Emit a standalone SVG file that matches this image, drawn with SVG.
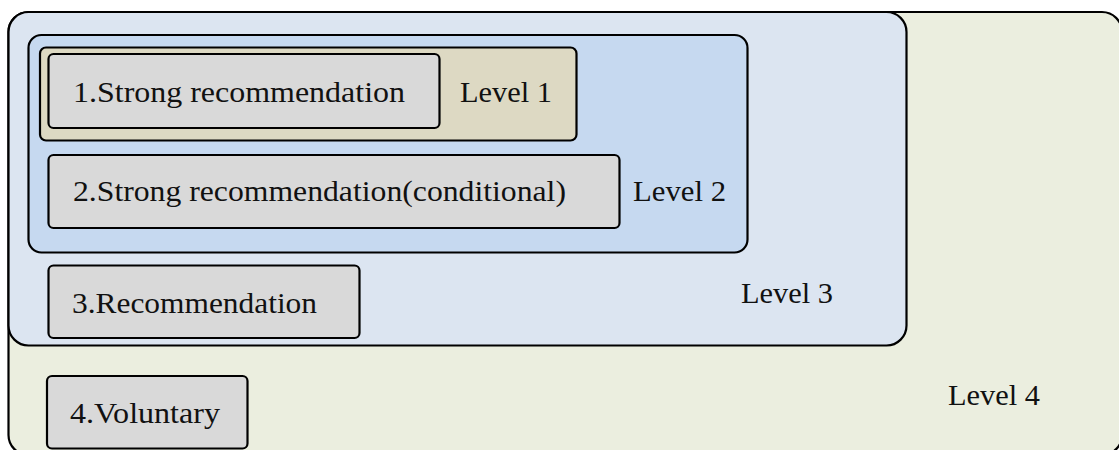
<svg xmlns="http://www.w3.org/2000/svg" width="1119" height="450" viewBox="0 0 1119 450">
<style>
.frame{stroke:#000;stroke-width:2.2}
.box{fill:#D9D9D9;stroke:#000;stroke-width:2.2}
text{font-family:"Liberation Serif","Times New Roman",serif;font-size:29px;fill:#111}
</style>
<rect width="1119" height="450" fill="#ffffff"/>
<g id="level4">
<rect class="frame" x="8.5" y="12" width="1113.5" height="443" rx="20" fill="#EBEEDF"/>
<text x="948" y="405" textLength="92" lengthAdjust="spacingAndGlyphs">Level 4</text>
</g>
<g id="level3">
<rect class="frame" x="8.5" y="12" width="898" height="333.5" rx="20" fill="#DCE5F1"/>
<text x="741" y="303" textLength="92" lengthAdjust="spacingAndGlyphs">Level 3</text>
</g>
<g id="level2">
<rect class="frame" x="28.5" y="35" width="719" height="217.5" rx="13" fill="#C6D9F0"/>
<text x="633" y="201" textLength="93" lengthAdjust="spacingAndGlyphs">Level 2</text>
</g>
<g id="level1">
<rect class="frame" x="40" y="47.5" width="536.5" height="93" rx="6" fill="#DDD9C3"/>
<text x="460" y="102" textLength="92" lengthAdjust="spacingAndGlyphs">Level 1</text>
</g>
<g id="node1">
<rect class="box" x="48.5" y="54" width="391" height="74" rx="5"/>
<text x="73" y="102" textLength="332" lengthAdjust="spacingAndGlyphs">1.Strong recommendation</text>
</g>
<g id="node2">
<rect class="box" x="48.5" y="155" width="571" height="73" rx="5"/>
<text x="73" y="201" textLength="493" lengthAdjust="spacingAndGlyphs">2.Strong recommendation(conditional)</text>
</g>
<g id="node3">
<rect class="box" x="48.5" y="265.5" width="311" height="72.5" rx="5"/>
<text x="72" y="313" textLength="245" lengthAdjust="spacingAndGlyphs">3.Recommendation</text>
</g>
<g id="node4">
<rect class="box" x="47" y="376" width="200.5" height="72.5" rx="5"/>
<text x="70" y="423" textLength="150" lengthAdjust="spacingAndGlyphs">4.Voluntary</text>
</g>
<g id="connectors"></g>
</svg>
